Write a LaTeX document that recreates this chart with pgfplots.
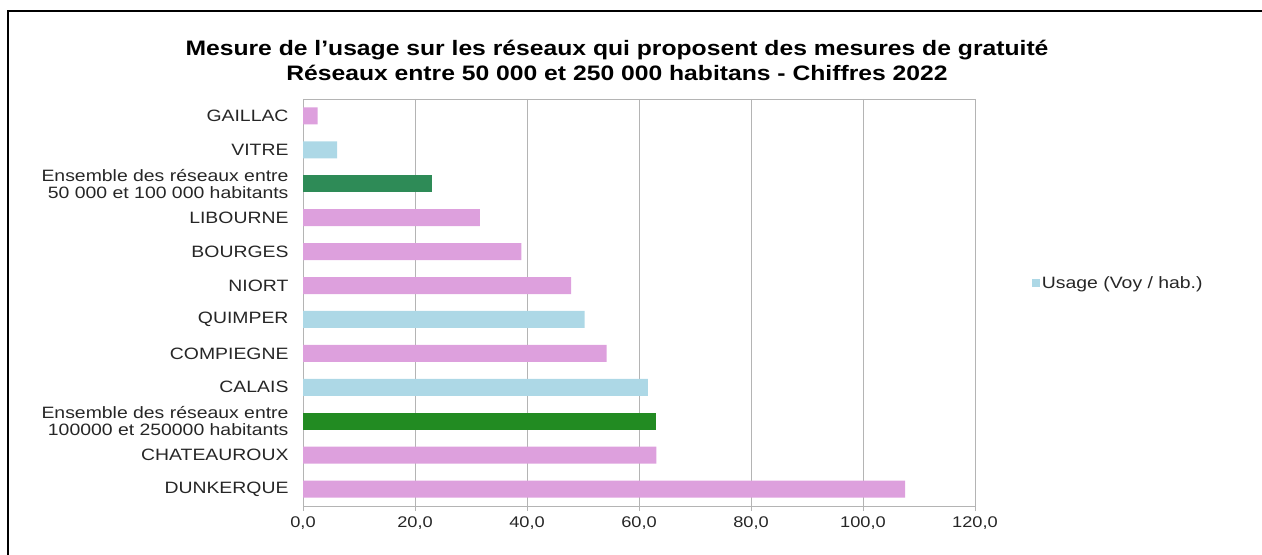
\documentclass[border=0pt]{standalone}
\usepackage{pgfplots}
\pgfplotsset{compat=1.18}
\usepackage{fontspec}
\setmainfont[FakeStretch=1.18]{Liberation Sans}
\definecolor{pinkbar}{HTML}{DDA0DD}
\definecolor{bluebar}{HTML}{ADD8E6}
\definecolor{greenA}{HTML}{2E8B57}
\definecolor{greenB}{HTML}{228B22}
\definecolor{gridgray}{HTML}{B4B4B4}
\begin{document}
\begin{tikzpicture}[x=1bp,y=1bp]
\path[use as bounding box] (0,0) rectangle (1262,555);
\draw[line width=1.5bp] (8,0) -- (8,544) -- (1262,544);
\node[font=\bfseries\fontsize{21}{25}\selectfont, align=center] at (617,495) {Mesure de l'usage sur les réseaux qui proposent des mesures de gratuité\\Réseaux entre 50 000 et 250 000 habitans - Chiffres 2022};
\begin{axis}[
  at={(303bp,49bp)}, anchor=south west,
  scale only axis, width=672bp, height=407bp,
  xbar, bar width=17bp, bar shift=0pt,
  xmin=0, xmax=120, ymin=-0.5, ymax=11.5, y dir=reverse,
  xtick={0,20,...,120},
  xmajorgrids, major grid style={gridgray, line width=0.8bp},
  axis line style={gridgray, line width=0.8bp},
  tick style={gridgray, line width=0.8bp},
  tick align=outside,
  xtick pos=bottom, ytick pos=left,
  major tick length=5bp,
  ytick={0,...,11},
  ytick style={draw=none},
  minor ytick={-0.5,0.5,...,11.5},
  minor tick length=5bp,
  yticklabels={GAILLAC,VITRE,{Ensemble des réseaux entre\\50 000 et 100 000 habitants},LIBOURNE,BOURGES,NIORT,QUIMPER,COMPIEGNE,CALAIS,{Ensemble des réseaux entre\\100000 et 250000 habitants},CHATEAUROUX,DUNKERQUE},
  yticklabel style={align=right, font=\fontsize{16.5}{17}\selectfont, xshift=-6bp, text=black!85},
  xticklabel style={font=\fontsize{15.5}{16}\selectfont, yshift=-2bp, text=black!85},
  /pgf/number format/.cd, fixed, fixed zerofill, precision=1, use comma, 1000 sep={}, assume math mode=true,
  /pgfplots/.cd,
  legend style={at={(rel axis cs:1.08,0.548)}, anchor=west, draw=none, font=\fontsize{16.5}{17}\selectfont, text=black!85},
  legend image code/.code={\fill[bluebar] (0bp,-4bp) rectangle (8bp,4bp);},
]
\addplot[fill=pinkbar, draw=none, bar shift=0pt, forget plot] coordinates {(2.6,0) (31.6,3) (39.0,4) (47.9,5) (54.2,7) (63.1,10) (107.5,11)};
\addplot[fill=bluebar, draw=none, bar shift=0pt] coordinates {(6.1,1) (50.3,6) (61.6,8)};
\addlegendentry{Usage (Voy / hab.)}
\addplot[fill=greenA, draw=none, bar shift=0pt, forget plot] coordinates {(23.1,2)};
\addplot[fill=greenB, draw=none, bar shift=0pt, forget plot] coordinates {(63.0,9)};
\end{axis}
\end{tikzpicture}
\end{document}
